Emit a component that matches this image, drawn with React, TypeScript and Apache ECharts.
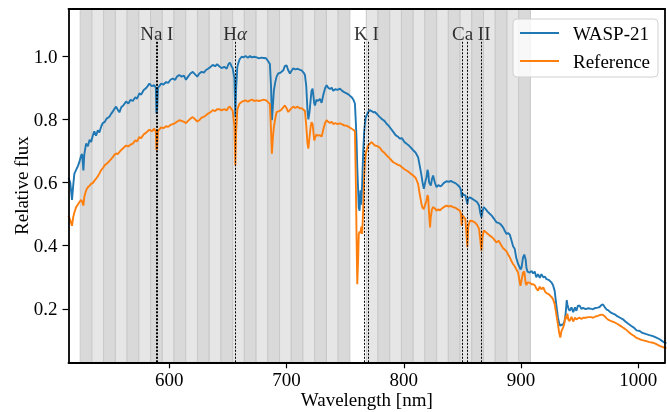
import React, { useEffect, useRef } from "react";
import * as echarts from "echarts";

// ---- data ----
const wavelength = [
  514, 515.5, 517, 518, 519, 520.5, 522, 523.3, 524.8, 525.6, 526.7, 527.5, 529, 530.5, 532, 533.3, 534.7, 536, 537.5, 539,
  540.3, 542, 543.2, 545, 546.5, 548.9, 550.5, 551.8, 553, 554.6, 556, 557.4, 559, 561, 563.1, 565, 567, 568.8, 571, 572.5,
  574.4, 576, 578, 580, 581.5, 583, 585, 587.2, 588.5, 589, 589.6, 590.3, 591.5, 593, 595, 597.2, 599, 601, 602.9, 605,
  606.5, 608.5, 610.5, 612.5, 614.2, 616, 618, 620, 622, 623.8, 625.6, 627.5, 629.5, 631.3, 633, 635, 637, 639, 640.8, 642.6,
  644.5, 646.9, 648.9, 650.5, 651.7, 653, 654, 655.5, 656.3, 657, 658, 658.8, 660, 661.7, 663.5, 665, 667, 668.8, 670.5, 672.5,
  674.5, 676.5, 678.5, 680.5, 682.5, 684, 685.8, 686.8, 687.5, 688.3, 689.2, 690.5, 691.5, 692.9, 695, 697.2, 698.5, 700, 701.4, 702.9,
  704.5, 705.7, 707.5, 709.5, 711, 712.8, 714.5, 715.7, 716.8, 717.8, 718.6, 719.5, 720.5, 721.3, 722.2, 723, 723.6, 724.2, 725.5, 727,
  728.5, 729.9, 731.5, 733, 734.2, 735.5, 737, 738.5, 739.8, 741.5, 743.5, 745.5, 747.5, 749.5, 751.2, 753, 755.5, 757, 758.3, 759.1,
  759.7, 760.3, 761, 761.6, 762.3, 763, 763.8, 764.5, 765.4, 766.2, 766.8, 767.5, 768.3, 769.6, 771, 772.5, 774, 775.3, 777.5, 779.6,
  781.5, 783.5, 785.3, 787, 789, 791, 793, 795, 796.6, 798.5, 800.5, 802.3, 804, 806, 808, 810, 812.2, 813.5, 815.1, 816,
  817.1, 818.2, 819.4, 820.2, 820.8, 821.6, 822.4, 823, 824, 825, 826.5, 827.9, 829.5, 831, 832.2, 834, 836.4, 838.5, 840, 842,
  844, 846, 847.8, 848.8, 849.4, 850.2, 851.2, 852.5, 853.4, 854.2, 855, 856.3, 858.5, 860.6, 862.5, 864.2, 865.2, 866.2, 867.2, 868.2,
  870, 871.5, 873.3, 875, 877, 879, 881, 882.5, 884.7, 886, 887.6, 889, 890.4, 892, 893.2, 894.6, 896, 897.5, 898.9, 899.5,
  900.4, 901.7, 902.8, 904, 904.6, 905.5, 907.4, 909, 910.4, 911.7, 913, 914.5, 916, 917.4, 919, 920.5, 921.7, 923.5, 925.9, 927.3,
  928.7, 930, 931.5, 932.5, 933.5, 934.5, 935.8, 937, 938, 939, 939.5, 940.5, 941.5, 943, 944.5, 946, 947.2, 948.5, 950, 951.5,
  953, 955, 957.5, 960, 961.4, 963.5, 965.5, 967, 968.5, 969.9, 971.5, 973, 974.2, 976, 978, 979.9, 982, 984.5, 986.9, 989,
  991.5, 994.1, 996.5, 998.5, 1001.2, 1003.5, 1006.9, 1009.5, 1012.5, 1015, 1018.2, 1020.5, 1022.5, 1024,
];

const wasp21 = [
  0.615, 0.6, 0.545, 0.59, 0.628, 0.64, 0.652, 0.665, 0.686, 0.69, 0.638, 0.69, 0.723, 0.715, 0.735, 0.728, 0.748, 0.762, 0.748, 0.765,
  0.758, 0.778, 0.788, 0.792, 0.802, 0.808, 0.818, 0.825, 0.832, 0.84, 0.83, 0.822, 0.838, 0.845, 0.856, 0.85, 0.862, 0.858, 0.87, 0.865,
  0.882, 0.878, 0.892, 0.898, 0.905, 0.913, 0.905, 0.908, 0.9, 0.818, 0.83, 0.9, 0.905, 0.913, 0.91, 0.918, 0.915, 0.925, 0.929, 0.925,
  0.935, 0.94, 0.935, 0.938, 0.925, 0.935, 0.945, 0.95, 0.942, 0.935, 0.945, 0.95, 0.948, 0.956, 0.96, 0.965, 0.972, 0.968, 0.974, 0.968,
  0.962, 0.966, 0.96, 0.975, 0.979, 0.968, 0.962, 0.93, 0.807, 0.9, 0.965, 0.977, 0.99, 0.998, 0.996, 1.0, 0.995, 1.0, 0.996, 0.998,
  0.996, 0.993, 0.995, 0.994, 0.993, 0.985, 0.975, 0.9, 0.797, 0.84, 0.892, 0.92, 0.935, 0.945, 0.948, 0.955, 0.968, 0.971, 0.955, 0.945,
  0.955, 0.961, 0.958, 0.96, 0.957, 0.955, 0.948, 0.94, 0.905, 0.83, 0.8, 0.82, 0.86, 0.89, 0.897, 0.87, 0.85, 0.844, 0.862, 0.858,
  0.865, 0.852, 0.88, 0.9, 0.908, 0.9, 0.896, 0.9, 0.89, 0.895, 0.893, 0.897, 0.89, 0.885, 0.882, 0.878, 0.87, 0.862, 0.85, 0.79,
  0.735, 0.65, 0.58, 0.52, 0.511, 0.575, 0.53, 0.6, 0.7, 0.76, 0.786, 0.805, 0.812, 0.823, 0.829, 0.826, 0.822, 0.823, 0.815, 0.807,
  0.8, 0.795, 0.786, 0.78, 0.77, 0.76, 0.75, 0.745, 0.739, 0.74, 0.728, 0.723, 0.718, 0.71, 0.702, 0.695, 0.68, 0.655, 0.622, 0.6,
  0.58, 0.6, 0.617, 0.64, 0.633, 0.6, 0.595, 0.59, 0.61, 0.622, 0.6, 0.585, 0.592, 0.588, 0.59, 0.598, 0.604, 0.602, 0.605, 0.601,
  0.598, 0.592, 0.585, 0.575, 0.553, 0.565, 0.56, 0.56, 0.545, 0.532, 0.55, 0.553, 0.548, 0.543, 0.538, 0.527, 0.505, 0.49, 0.51, 0.522,
  0.515, 0.508, 0.501, 0.495, 0.485, 0.474, 0.472, 0.468, 0.458, 0.448, 0.437, 0.44, 0.435, 0.415, 0.398, 0.39, 0.36, 0.342, 0.331, 0.325,
  0.33, 0.363, 0.372, 0.355, 0.33, 0.318, 0.315, 0.32, 0.312, 0.318, 0.3, 0.31, 0.298, 0.31, 0.3, 0.302, 0.294, 0.292, 0.284, 0.275,
  0.257, 0.215, 0.172, 0.155, 0.146, 0.15, 0.15, 0.16, 0.183, 0.228, 0.215, 0.2, 0.194, 0.205, 0.19, 0.205, 0.194, 0.21, 0.21, 0.2,
  0.203, 0.199, 0.202, 0.2, 0.199, 0.203, 0.204, 0.206, 0.212, 0.214, 0.205, 0.198, 0.196, 0.19, 0.186, 0.183, 0.177, 0.172, 0.167, 0.16,
  0.153, 0.146, 0.14, 0.132, 0.13, 0.124, 0.12, 0.117, 0.114, 0.11, 0.104, 0.098, 0.093, 0.092,
];

const reference = [
  0.495, 0.48, 0.463, 0.49, 0.505, 0.522, 0.53, 0.538, 0.545, 0.54, 0.527, 0.555, 0.575, 0.585, 0.59, 0.596, 0.598, 0.605, 0.612, 0.62,
  0.628, 0.64, 0.645, 0.655, 0.659, 0.668, 0.675, 0.68, 0.687, 0.692, 0.69, 0.696, 0.703, 0.71, 0.717, 0.714, 0.72, 0.723, 0.733, 0.73,
  0.744, 0.74, 0.752, 0.757, 0.762, 0.767, 0.762, 0.77, 0.76, 0.702, 0.71, 0.762, 0.768, 0.774, 0.772, 0.778, 0.776, 0.782, 0.785, 0.788,
  0.792, 0.797, 0.795, 0.792, 0.788, 0.795, 0.802, 0.807, 0.8, 0.793, 0.797, 0.805, 0.808, 0.813, 0.818, 0.822, 0.829, 0.826, 0.832, 0.832,
  0.828, 0.832, 0.828, 0.838, 0.84, 0.832, 0.828, 0.78, 0.654, 0.76, 0.83, 0.84, 0.85, 0.855, 0.858, 0.86, 0.856, 0.86, 0.862, 0.858,
  0.86, 0.858, 0.86, 0.862, 0.86, 0.855, 0.848, 0.76, 0.691, 0.74, 0.776, 0.805, 0.823, 0.825, 0.828, 0.838, 0.844, 0.835, 0.823, 0.83,
  0.836, 0.84, 0.836, 0.84, 0.835, 0.835, 0.83, 0.826, 0.78, 0.725, 0.707, 0.74, 0.775, 0.791, 0.785, 0.755, 0.733, 0.74, 0.752, 0.748,
  0.75, 0.745, 0.77, 0.79, 0.797, 0.792, 0.788, 0.792, 0.785, 0.788, 0.785, 0.787, 0.784, 0.78, 0.78, 0.776, 0.77, 0.767, 0.762, 0.6,
  0.43, 0.278, 0.35, 0.437, 0.445, 0.44, 0.46, 0.437, 0.52, 0.62, 0.66, 0.69, 0.702, 0.717, 0.722, 0.728, 0.722, 0.717, 0.715, 0.71,
  0.7, 0.694, 0.686, 0.68, 0.672, 0.664, 0.66, 0.656, 0.654, 0.648, 0.642, 0.638, 0.634, 0.628, 0.622, 0.615, 0.596, 0.565, 0.532, 0.52,
  0.516, 0.53, 0.543, 0.56, 0.553, 0.5, 0.458, 0.49, 0.515, 0.522, 0.518, 0.511, 0.515, 0.512, 0.517, 0.522, 0.527, 0.524, 0.526, 0.522,
  0.52, 0.515, 0.511, 0.5, 0.463, 0.495, 0.49, 0.485, 0.44, 0.395, 0.46, 0.479, 0.478, 0.474, 0.466, 0.453, 0.42, 0.384, 0.43, 0.448,
  0.443, 0.438, 0.432, 0.428, 0.42, 0.41, 0.416, 0.405, 0.392, 0.388, 0.382, 0.372, 0.363, 0.35, 0.342, 0.335, 0.325, 0.315, 0.285, 0.273,
  0.29, 0.315, 0.318, 0.28, 0.275, 0.284, 0.283, 0.278, 0.278, 0.275, 0.265, 0.258, 0.27, 0.262, 0.268, 0.255, 0.25, 0.247, 0.238, 0.231,
  0.215, 0.185, 0.151, 0.125, 0.109, 0.13, 0.14, 0.155, 0.178, 0.168, 0.185, 0.165, 0.162, 0.175, 0.16, 0.172, 0.167, 0.17, 0.172, 0.168,
  0.172, 0.172, 0.174, 0.174, 0.172, 0.176, 0.178, 0.18, 0.182, 0.181, 0.176, 0.17, 0.166, 0.163, 0.16, 0.157, 0.153, 0.147, 0.141, 0.136,
  0.128, 0.12, 0.114, 0.108, 0.104, 0.101, 0.098, 0.095, 0.093, 0.089, 0.083, 0.08, 0.077, 0.076,
];

// spectral bin edges (nm)
const binEdgesBlue = [524, 534, 544, 554, 564, 574, 584, 594, 604, 614, 624, 634, 644, 654, 664, 674, 684, 694, 704, 714, 724, 734, 744, 754];
const binEdgesRed = [768, 778, 788, 798, 808, 818, 828, 838, 848, 858, 868, 878, 888, 898, 908];

// absorption line positions (nm)
const lineWavelengths = [589.0, 589.6, 656.3, 766.5, 769.9, 849.8, 854.2, 866.2];
const lineLabels = ["Na I", "Hα", "K I", "Ca II"];
const lineLabelPositions = [589.3, 656.2, 768.2, 857.5];

const xTicks = [600, 700, 800, 900, 1000];
const yTicks = [0.2, 0.4, 0.6, 0.8, 1.0];

const X_MIN = 514;
const X_MAX = 1022.8;
const Y_MIN = 0.031;
const Y_MAX = 1.149;
const LINE_TOP = 1.05;
const LABEL_Y = 1.071;

const FONT = "'Liberation Serif', 'Times New Roman', serif";
const FS = 19;

function buildBins(edges: number[], startDark: boolean) {
  const out: any[] = [];
  for (let i = 0; i < edges.length - 1; i++) {
    const dark = (i % 2 === 0) === startDark;
    out.push([
      { xAxis: edges[i], itemStyle: { color: dark ? "#d9d9d9" : "#e6e6e6", borderColor: "#c9c9c9", borderWidth: 1 } },
      { xAxis: edges[i + 1] },
    ]);
  }
  return out;
}

export default function App() {
  const ref = useRef<HTMLDivElement>(null);
  useEffect(() => {
    document.body.style.margin = "0";
    const chart = echarts.init(ref.current!, undefined, { renderer: "svg" });
    const axisCommon = {
      axisLine: { show: true, lineStyle: { color: "#000", width: 1.8 } },
      splitLine: { show: false },
      z: 10,
    };
    const option: any = {
      animation: false,
      textStyle: { fontFamily: FONT },
      grid: { left: 68.5, right: 2, top: 9, bottom: 49.7, containLabel: false, outerBoundsMode: "none" },
      legend: {
        orient: "vertical",
        left: 513,
        top: 19,
        icon: "rect",
        itemWidth: 39,
        itemHeight: 2,
        itemGap: 8,
        padding: [4, 8, 6, 7],
        borderColor: "#d0d0d0",
        borderWidth: 1,
        borderRadius: 4,
        backgroundColor: "rgba(255,255,255,0.8)",
        textStyle: { fontFamily: FONT, fontSize: FS, color: "#000", lineHeight: 20, padding: [0, 0, 0, 9] },
        data: ["WASP-21", "Reference"],
      },
      xAxis: [
        {
          ...axisCommon,
          type: "value",
          min: X_MIN,
          max: X_MAX,
          position: "bottom",
          name: "Wavelength [nm]",
          nameLocation: "middle",
          nameGap: 28,
          nameMoveOverlap: false,
          nameTextStyle: { fontFamily: FONT, fontSize: FS, color: "#000" },
          axisTick: { show: true, length: 6, lineStyle: { color: "#000", width: 1.2 }, customValues: xTicks },
          axisLabel: { show: true, fontFamily: FONT, fontSize: FS, color: "#000", margin: 8, customValues: xTicks, formatter: (v: number) => String(v) },
        },
        {
          ...axisCommon,
          type: "value",
          min: X_MIN,
          max: X_MAX,
          position: "top",
          axisTick: { show: false },
          axisLabel: { show: false },
        },
      ],
      yAxis: [
        {
          ...axisCommon,
          type: "value",
          min: Y_MIN,
          max: Y_MAX,
          position: "left",
          name: "Relative flux",
          nameLocation: "middle",
          nameGap: 38,
          nameMoveOverlap: false,
          nameTextStyle: { fontFamily: FONT, fontSize: FS, color: "#000" },
          axisTick: { show: true, length: 6, lineStyle: { color: "#000", width: 1.2 }, customValues: yTicks },
          axisLabel: { show: true, fontFamily: FONT, fontSize: FS, color: "#000", margin: 11, customValues: yTicks, formatter: (v: number) => v.toFixed(1) },
        },
        {
          ...axisCommon,
          type: "value",
          min: Y_MIN,
          max: Y_MAX,
          position: "right",
          axisTick: { show: false },
          axisLabel: { show: false },
        },
      ],
      series: [
        {
          name: "bins",
          type: "line",
          data: [],
          z: 1,
          silent: true,
          markArea: {
            silent: true,
            data: [...buildBins(binEdgesBlue, true), ...buildBins(binEdgesRed, false)],
          },
        },
        {
          name: "WASP-21",
          type: "line",
          data: wavelength.map((w, i) => [w, wasp21[i]]),
          symbol: "none",
          lineStyle: { color: "#1f77b4", width: 1.9 },
          itemStyle: { color: "#1f77b4" },
          z: 3,
        },
        {
          name: "Reference",
          type: "line",
          data: wavelength.map((w, i) => [w, reference[i]]),
          symbol: "none",
          lineStyle: { color: "#ff7f0e", width: 1.9 },
          itemStyle: { color: "#ff7f0e" },
          z: 3,
        },
        {
          name: "lines",
          type: "line",
          data: [],
          z: 4,
          silent: true,
          markLine: {
            silent: true,
            symbol: ["none", "none"],
            label: { show: false },
            lineStyle: { color: "#000", width: 1, type: [2, 1.5] },
            data: lineWavelengths.map((w) => [{ coord: [w, Y_MIN] }, { coord: [w, LINE_TOP] }]),
          },
        },
        {
          name: "labels",
          type: "scatter",
          symbolSize: 0,
          z: 5,
          silent: true,
          data: lineLabelPositions.map((x, i) => ({ value: [x, LABEL_Y], name: lineLabels[i] })),
          label: {
            show: true,
            position: "inside",
            fontFamily: FONT,
            fontSize: FS,
            color: "#000",
            formatter: (p: any) => (p.name === "Hα" ? "{n|H}{i|α}" : p.name),
            rich: {
              n: { fontFamily: FONT, fontSize: FS, color: "#000" },
              i: { fontFamily: FONT, fontSize: FS, color: "#000", fontStyle: "italic" },
            },
          },
        },
      ],
    };
    chart.setOption(option);
    return () => chart.dispose();
  }, []);
  return <div ref={ref} style={{ position: "fixed", left: 0, top: 0, width: 667, height: 412 }} />;
}
